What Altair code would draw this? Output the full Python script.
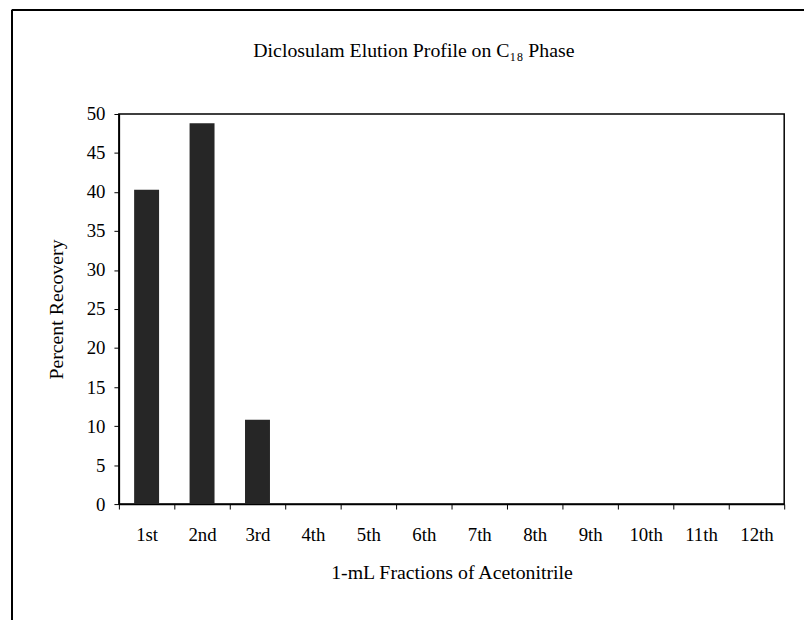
import altair as alt
import pandas as pd

fractions = ["1st", "2nd", "3rd", "4th", "5th", "6th", "7th", "8th", "9th", "10th", "11th", "12th"]
recovery = [40.3, 48.8, 10.8, 0, 0, 0, 0, 0, 0, 0, 0, 0]
y_ticks = [0, 5, 10, 15, 20, 25, 30, 35, 40, 45, 50]
chart_title = "Diclosulam Elution Profile on C\u2081\u2088 Phase"

df = pd.DataFrame({"fraction": fractions, "recovery": recovery})

FONT = "Liberation Serif"

bars = alt.Chart(df).mark_bar(
    width=alt.RelativeBandSize(0.45), color="#262626"
).encode(
    x=alt.X(
        "fraction:N",
        sort=fractions,
        scale=alt.Scale(paddingInner=0, paddingOuter=0),
        axis=alt.Axis(
            title="1-mL Fractions of Acetonitrile",
            labelAngle=0,
            tickBand="extent",
            tickSize=5,
            labelPadding=17,
            titlePadding=18,
            domainColor="#000000",
            domainWidth=1.5,
            tickColor="#000000",
        ),
    ),
    y=alt.Y(
        "recovery:Q",
        scale=alt.Scale(domain=[0, 50], nice=False),
        axis=alt.Axis(
            title="Percent Recovery",
            values=y_ticks,
            tickSize=5,
            labelPadding=9,
            titlePadding=20,
            grid=False,
            domainColor="#000000",
            domainWidth=1.5,
            tickColor="#000000",
        ),
    ),
)

frame_left = alt.Chart(df).mark_rule(color="#000000", strokeWidth=1.5).encode(
    x=alt.value(-108), y=alt.value(-105), y2=alt.value(520)
)
frame_top = alt.Chart(df).mark_rule(color="#000000", strokeWidth=1.5).encode(
    x=alt.value(-108), x2=alt.value(700), y=alt.value(-105)
)
title_text = alt.Chart(pd.DataFrame({"t": [chart_title]})).mark_text(
    font=FONT, fontSize=20, color="#000000", align="center", baseline="middle"
).encode(
    text="t:N", x=alt.value(298), y=alt.value(-64)
)

chart = alt.layer(frame_left, frame_top, title_text, bars).properties(
    width=672,
    height=394,
    background="white",
    autosize=alt.AutoSizeParams(type="none"),
    padding={"left": 112, "top": 104, "right": 20, "bottom": 114},
).configure_axis(
    labelFont=FONT,
    titleFont=FONT,
    labelFontSize=19,
    titleFontSize=20,
    titleFontWeight="normal",
    labelColor="#000000",
    titleColor="#000000",
).configure_view(
    stroke="#000000", strokeWidth=1.5
)

chart.save("out.html", embed_options={"renderer": "svg", "actions": False})
